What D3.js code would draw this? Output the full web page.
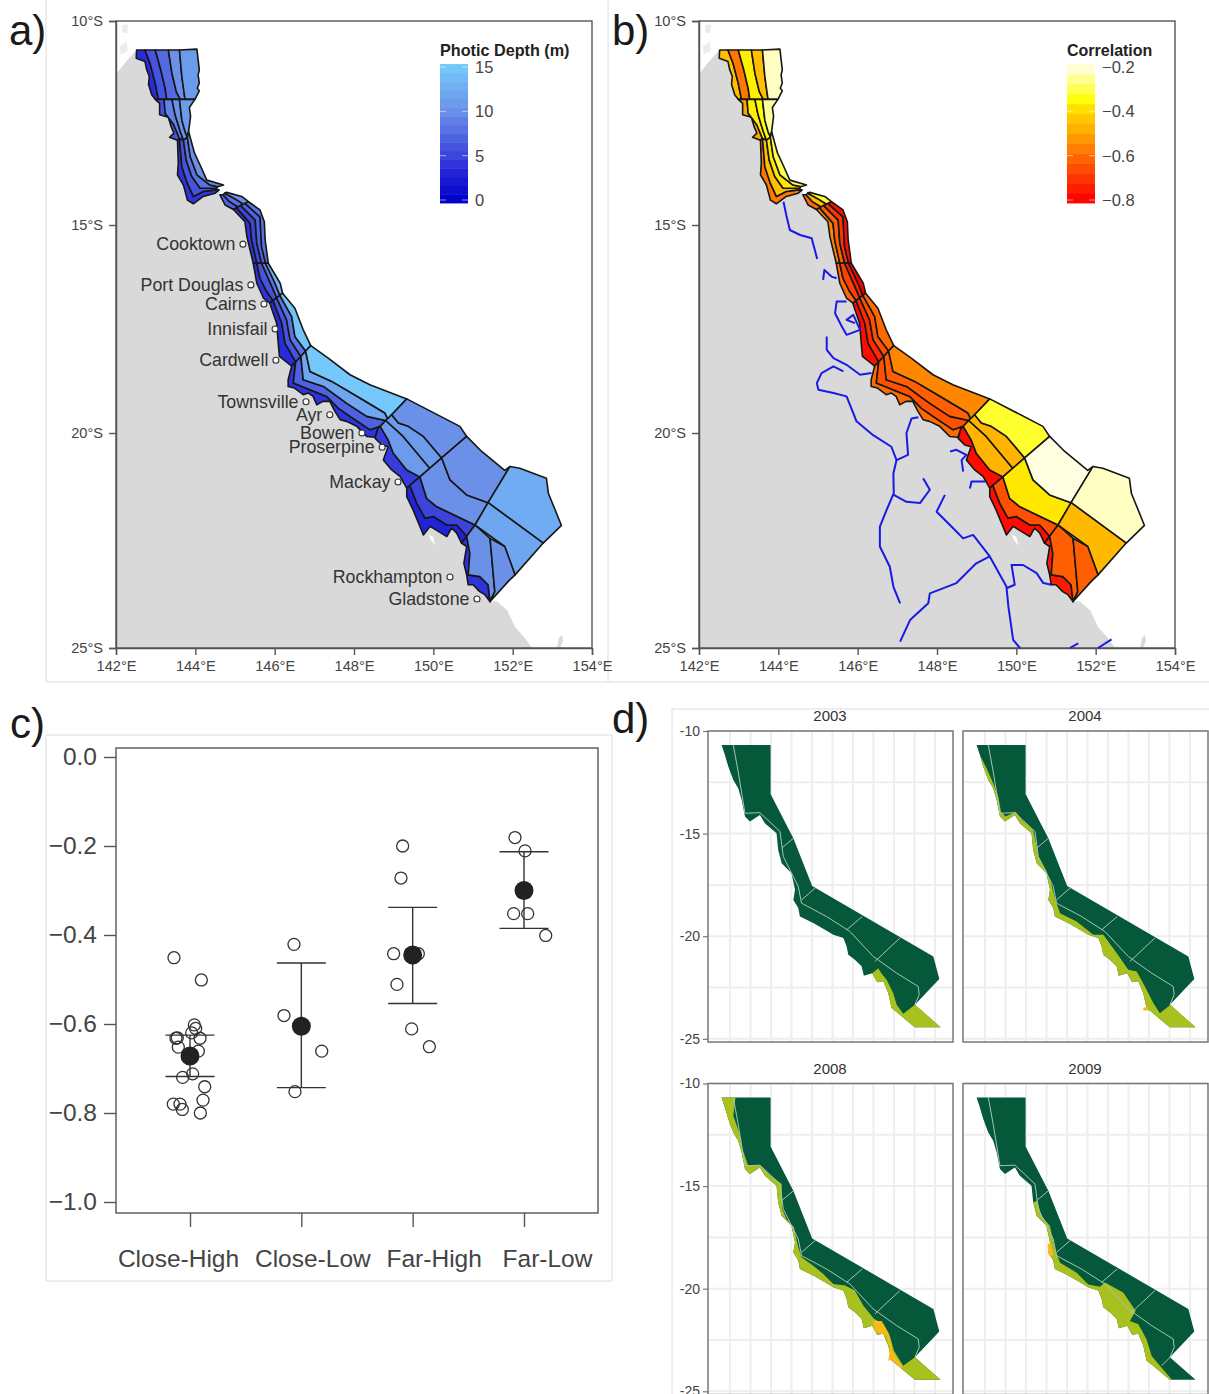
<!DOCTYPE html>
<html lang="en">
<head>
<meta charset="UTF-8">
<title>Photic depth and correlation maps</title>
<script src="https://d3js.org/d3.v7.min.js"></script>
<style>
    html, body { margin: 0; padding: 0; background: #fff; overflow: hidden; }
    svg { display: block; }
    text { font-family: "Liberation Sans", Arial, sans-serif; }
    .map-axis text { fill: #444; font-size: 14.6px; }
    .map-axis path, .map-axis line { stroke: #555; stroke-width: 1.4; }
    .c-axis text { fill: #444; font-size: 24.5px; }
    .c-axis path, .c-axis line { stroke: #555; stroke-width: 1.4; }
    .d-axis text { fill: #444; font-size: 14px; }
    .d-axis path { display: none; }
    .d-axis line { stroke: #777; stroke-width: 1.2; }
</style>
</head>
<body>
<svg width="1209" height="1394"></svg>
<script>
    // Map axes
    const lonTicks = [142, 144, 146, 148, 150, 152, 154];
    const latTicks = [-10, -15, -20, -25];

    // Reef sections: each list runs coast -> offshore, every line north -> south [lon, lat]
    const farNorthTop = [
        [[142.52,-10.71],[142.51,-10.91],[142.73,-10.99],[142.77,-11.18],[142.84,-11.36],[142.82,-11.55],[142.90,-11.81],[142.99,-11.92]],
        [[142.73,-10.71],[142.86,-11.04],[142.99,-11.53],[143.07,-11.92]],
        [[142.99,-10.71],[143.13,-11.20],[143.24,-11.65],[143.28,-11.92]],
        [[143.32,-10.71],[143.41,-11.28],[143.52,-11.73],[143.62,-11.92]],
        [[143.60,-10.71],[143.66,-11.36],[143.74,-11.92]],
        [[144.04,-10.69],[144.10,-11.20],[144.07,-11.32],[144.10,-11.52],[144.05,-11.65],[144.10,-11.71],[143.99,-11.92]]
    ];
    const farNorthMid = [
        [[142.99,-11.92],[143.10,-12.02],[143.10,-12.30],[143.32,-12.36],[143.39,-12.59],[143.46,-12.75],[143.35,-12.85],[143.55,-12.92]],
        [[143.21,-11.92],[143.24,-12.26],[143.46,-12.55],[143.60,-12.88]],
        [[143.41,-11.92],[143.49,-12.30],[143.62,-12.71],[143.70,-12.92]],
        [[143.60,-11.92],[143.66,-12.43],[143.74,-12.71],[143.80,-12.85]],
        [[143.99,-11.92],[143.85,-12.12],[143.88,-12.34],[143.83,-12.71]]
    ];
    const farNorthLow = [
        [[143.55,-12.92],[143.57,-13.49],[143.55,-13.77],[143.70,-14.02],[143.80,-14.39],[143.95,-14.48],[144.20,-14.30],[144.50,-14.22],[144.60,-14.14]],
        [[143.60,-12.88],[143.66,-13.57],[143.80,-13.98],[143.95,-14.30],[144.20,-14.18],[144.50,-14.14]],
        [[143.70,-12.92],[143.77,-13.41],[143.91,-13.81],[144.12,-14.10],[144.54,-14.10]],
        [[143.80,-12.85],[143.87,-13.32],[144.04,-13.77],[144.37,-14.02],[144.56,-14.06]],
        [[143.83,-12.71],[143.98,-13.24],[144.12,-13.53],[144.29,-13.90],[144.71,-14.02]]
    ];
    const cooktownTop = [
        [[144.62,-14.26],[144.75,-14.51],[144.96,-14.62]],
        [[144.70,-14.26],[144.85,-14.42],[145.08,-14.56]],
        [[144.74,-14.22],[145.00,-14.36],[145.22,-14.49]],
        [[144.79,-14.20],[145.17,-14.30],[145.34,-14.43]]
    ];
    const cooktownMid = [
        [[144.96,-14.62],[145.25,-14.92],[145.30,-15.28],[145.38,-15.60],[145.46,-15.92]],
        [[145.04,-14.58],[145.38,-14.96],[145.42,-15.36],[145.55,-15.92]],
        [[145.14,-14.52],[145.51,-14.88],[145.55,-15.44],[145.67,-15.92]],
        [[145.25,-14.47],[145.63,-14.80],[145.67,-15.52],[145.77,-15.92]],
        [[145.34,-14.43],[145.63,-14.63],[145.74,-14.92],[145.76,-15.36],[145.84,-15.92]]
    ];
    const portDouglas = [
        [[145.46,-15.92],[145.55,-16.40],[145.72,-16.76],[145.88,-16.88]],
        [[145.55,-15.92],[145.63,-16.28],[145.80,-16.60],[145.96,-16.82]],
        [[145.67,-15.92],[145.93,-16.48],[146.05,-16.75]],
        [[145.77,-15.92],[146.01,-16.40],[146.13,-16.69]],
        [[145.84,-15.92],[146.14,-16.40],[146.20,-16.64]]
    ];
    const cardwell = [
        [[145.88,-16.88],[145.92,-17.00],[146.05,-17.36],[146.09,-17.84],[146.12,-18.16],[146.43,-18.39]],
        [[145.96,-16.82],[146.18,-17.36],[146.26,-17.84],[146.53,-18.29]],
        [[146.05,-16.75],[146.30,-17.28],[146.39,-17.76],[146.66,-18.16]],
        [[146.13,-16.69],[146.43,-17.20],[146.51,-17.68],[146.78,-18.03]],
        [[146.20,-16.64],[146.51,-17.00],[146.72,-17.52],[146.91,-17.90]]
    ];
    const townsville = [
        [[146.43,-18.39],[146.34,-18.72],[146.34,-18.88],[146.50,-18.92],[146.72,-19.08],[146.85,-19.04],[146.97,-19.12],[147.06,-19.32],[147.22,-19.24],[147.39,-19.24],[147.52,-19.48],[147.65,-19.68],[147.81,-19.72],[148.07,-19.84],[148.32,-20.08],[148.53,-20.10],[148.61,-19.88]],
        [[146.53,-18.29],[146.47,-18.80],[146.89,-18.96],[147.31,-19.12],[147.60,-19.40],[147.90,-19.60],[148.40,-19.92],[148.66,-19.84]],
        [[146.66,-18.16],[146.72,-18.72],[147.23,-18.88],[147.81,-19.28],[148.32,-19.60],[148.80,-19.70]],
        [[146.78,-18.03],[146.89,-18.52],[147.44,-18.76],[148.15,-19.16],[148.78,-19.52],[148.86,-19.68],[148.95,-19.56]],
        [[146.91,-17.90],[147.35,-18.20],[147.90,-18.60],[148.40,-18.84],[149.33,-19.18]]
    ];
    const whitsundays = [
        [[148.61,-19.88],[148.53,-20.12],[148.70,-20.28],[148.86,-20.32],[148.74,-20.63],[148.95,-20.86],[149.16,-21.01],[149.33,-21.28]],
        [[148.66,-19.84],[148.86,-20.16],[148.99,-20.47],[149.33,-20.86],[149.66,-21.02]],
        [[148.80,-19.70],[149.24,-20.08],[149.91,-20.82]],
        [[148.95,-19.56],[149.12,-19.76],[149.37,-19.84],[149.75,-20.08],[150.21,-20.58]],
        [[149.33,-19.18],[150.67,-19.84],[150.84,-20.08]]
    ];
    const mackay = [
        [[149.33,-21.28],[149.33,-21.48],[149.49,-21.79],[149.75,-22.37],[149.92,-22.17],[150.34,-22.41],[150.46,-22.21],[150.59,-22.33],[150.71,-22.56]],
        [[149.41,-21.22],[149.58,-21.63],[149.79,-21.98],[150.00,-21.94],[150.34,-22.14],[150.59,-22.14],[150.84,-22.40]],
        [[149.66,-21.02],[149.83,-21.52],[150.08,-21.71],[151.05,-22.14]],
        [[150.21,-20.58],[150.42,-21.09],[150.84,-21.44],[151.38,-21.62]],
        [[150.84,-20.08],[151.22,-20.43],[151.80,-20.87],[151.93,-20.78]]
    ];
    const southEnd = [
        [[150.71,-22.56],[150.84,-22.64],[150.77,-23.03],[150.84,-23.30],[150.88,-23.53],[151.00,-23.53],[151.17,-23.69],[151.30,-23.76],[151.43,-23.92]],
        [[150.84,-22.40],[150.92,-22.80],[150.88,-23.30],[151.17,-23.34],[151.38,-23.53],[151.43,-23.92]],
        [[151.05,-22.14],[151.43,-22.45],[151.55,-23.69],[151.43,-23.92]]
    ];
    // Single offshore cells
    const cellNorthEast = [[151.93,-20.78],[152.18,-20.82],[152.85,-21.05],[152.90,-21.40],[153.23,-22.15],[152.77,-22.56],[151.38,-21.62]];
    const cellEast = [[151.38,-21.62],[152.77,-22.56],[152.06,-23.30],[151.80,-22.64],[151.05,-22.14]];
    const cellSouth = [[151.43,-22.45],[151.80,-22.64],[152.06,-23.30],[151.89,-23.45],[151.43,-23.92],[151.55,-23.69]];

    // Photic depth (m) per band, coast -> offshore
    const depthFarNorthTop = [3.5, 6, 7.5, 10, 11];
    const depthFarNorthMid = [6, 9, 10, 11];
    const depthFarNorthLow = [4, 6, 8, 10];
    const depthCooktownTop = [7, 8, 10];
    const depthCooktownMid = [4, 5, 7, 8];
    const depthPortDouglas = [4, 6, 8, 13];
    const depthCardwell = [3.5, 6, 8, 14.5];
    const depthTownsville = [4, 7, 12, 15];
    const depthWhitsundays = [4.5, 11, 11, 10];
    const depthMackay = [3, 5, 10, 10];
    const depthSouthEnd = [4, 10];
    const depthCells = [12.5, 12, 10];

    // Correlation per band, coast -> offshore
    const corrFarNorthTop = [-0.45, -0.58, -0.37, -0.45, -0.22];
    const corrFarNorthMid = [-0.5, -0.37, -0.35, -0.25];
    const corrFarNorthLow = [-0.58, -0.45, -0.38, -0.3];
    const corrCooktownTop = [-0.6, -0.45, -0.33];
    const corrCooktownMid = [-0.55, -0.62, -0.7, -0.78];
    const corrPortDouglas = [-0.6, -0.68, -0.75, -0.8];
    const corrCardwell = [-0.78, -0.72, -0.65, -0.6];
    const corrTownsville = [-0.6, -0.65, -0.62, -0.55];
    const corrWhitsundays = [-0.78, -0.47, -0.47, -0.32];
    const corrMackay = [-0.78, -0.65, -0.38, -0.2];
    const corrSouthEnd = [-0.75, -0.62];
    const corrCells = [-0.22, -0.46, -0.62];

    // Land edge beyond the reef
    const landNorth = [[142,-11.3],[142.25,-11.0],[142.5,-10.72]];
    const landSouth = [[151.60,-23.91],[151.86,-24.12],[152.06,-24.51],[152.28,-24.74],[152.49,-25],[142,-25]];
    const islandSouth = [[153.12,-25],[153.16,-24.78],[153.24,-24.70],[153.27,-24.82],[153.2,-25]];
    const islandsNorth = [[[142.15,-10.1],[142.3,-10.08],[142.28,-10.3],[142.16,-10.28]], [[142.1,-10.62],[142.27,-10.5],[142.3,-10.72],[142.12,-10.82]]];
    const whiteNotch = [[149.88,-22.36],[150.0,-22.42],[150.05,-22.62],[149.95,-22.5]];

    // Towns
    const townNames = ["Cooktown", "Port Douglas", "Cairns", "Innisfail", "Cardwell", "Townsville", "Ayr", "Bowen", "Proserpine", "Mackay", "Rockhampton", "Gladstone"];
    const townLon = [145.20, 145.40, 145.73, 146.01, 146.03, 146.79, 147.39, 148.20, 148.71, 149.11, 150.42, 151.10];
    const townLat = [-15.46, -16.44, -16.90, -17.50, -18.25, -19.25, -19.56, -20.00, -20.33, -21.14, -23.35, -23.86];

    // Rivers on panel b
    const rivers = [
        [[144.13,-14.43],[144.21,-14.80],[144.29,-15.12],[144.55,-15.24],[144.84,-15.32],[144.92,-15.60],[144.98,-15.82]],
        [[145.13,-16.32],[145.16,-16.08],[145.34,-16.24],[145.47,-16.28]],
        [[145.72,-16.84],[145.47,-16.84],[145.43,-17.12],[145.60,-17.44],[145.72,-17.64],[146.06,-17.52],[145.89,-17.16],[145.72,-17.28],[145.93,-17.36]],
        [[145.22,-17.68],[145.22,-18.00],[145.39,-18.20],[145.72,-18.36],[146.06,-18.60],[146.35,-18.56]],
        [[145.64,-18.52],[145.39,-18.40],[145.09,-18.56],[144.97,-18.80],[145.01,-18.96],[145.39,-19.04],[145.72,-19.12],[145.89,-19.52],[145.97,-19.72],[146.39,-20.05],[146.85,-20.32],[146.98,-20.63],[146.90,-20.94],[146.91,-21.40],[146.73,-21.79],[146.56,-22.18],[146.56,-22.64],[146.81,-23.11],[146.90,-23.57],[147.07,-23.96]],
        [[146.98,-20.63],[147.27,-20.51],[147.23,-20.00],[147.36,-19.65],[147.53,-19.62]],
        [[146.91,-21.44],[147.23,-21.60],[147.57,-21.63],[147.82,-21.32],[147.65,-21.05]],
        [[148.33,-20.43],[148.49,-20.39],[148.74,-20.51],[148.62,-20.63],[148.66,-20.90]],
        [[148.83,-21.29],[148.87,-21.13],[149.21,-21.13]],
        [[148.20,-21.44],[147.99,-21.83],[148.37,-22.18],[148.66,-22.45],[148.91,-22.37],[149.33,-22.87],[149.75,-23.57],[149.80,-24.04],[149.92,-24.81],[150.09,-25.00]],
        [[147.07,-24.85],[147.32,-24.35],[147.78,-23.96],[147.82,-23.73],[148.49,-23.49],[148.99,-23.03],[149.33,-22.87]],
        [[149.75,-23.61],[149.96,-23.53],[149.88,-23.07],[150.17,-23.07],[150.51,-23.26],[150.68,-23.49],[150.89,-23.53]],
        [[151.35,-25.00],[151.56,-24.89]],
        [[152.06,-25.00],[152.40,-24.80]]
    ];

    // Panel c
    const groupNames = ["Close-High", "Close-Low", "Far-High", "Far-Low"];
    const closeHighOffset = [-0.144, 0.102, 0.039, 0.051, 0.015, 0.09, -0.114, -0.126, -0.105, 0.075, 0.024, -0.066, 0.132, 0.117, -0.15, -0.09, -0.069, 0.093];
    const closeHighValues = [-0.451, -0.501, -0.602, -0.61, -0.62, -0.632, -0.631, -0.632, -0.652, -0.661, -0.712, -0.72, -0.741, -0.771, -0.78, -0.78, -0.792, -0.80];
    const closeLowOffset = [-0.066, -0.156, 0.183, -0.057];
    const closeLowValues = [-0.421, -0.581, -0.661, -0.752];
    const farHighOffset = [-0.09, -0.105, -0.171, 0.051, -0.141, -0.009, 0.15];
    const farHighValues = [-0.2, -0.272, -0.442, -0.442, -0.511, -0.611, -0.651];
    const farLowOffset = [-0.081, 0.009, -0.093, 0.033, 0.195];
    const farLowValues = [-0.181, -0.211, -0.352, -0.352, -0.401];
    const groupMeans = [-0.672, -0.605, -0.445, -0.30];
    const groupUpper = [-0.625, -0.463, -0.338, -0.213];
    const groupLower = [-0.718, -0.743, -0.554, -0.385];

    // Panel d
    const yearNames = ["2003", "2004", "2008", "2009"];
    const gridLon = [142, 143, 144, 145, 146, 147, 148, 149, 150, 151, 152];
    const gridLat = [-10, -12.5, -15, -17.5, -20, -22.5, -25];
    const dCoast = [[141.59,-10.68],[141.75,-11.17],[141.92,-11.74],[142.16,-12.39],[142.40,-12.79],[142.57,-13.36],[142.73,-14.17],[142.97,-14.41],[143.46,-14.09],[143.70,-14.49],[144.27,-14.98],[144.35,-15.79],[144.52,-16.44],[145.00,-16.93],[145.17,-17.74],[145.09,-18.23],[145.33,-18.63],[145.41,-19.04],[146.06,-19.36],[146.63,-19.69],[147.04,-19.93],[147.53,-20.09],[147.69,-20.50],[147.77,-20.91],[148.09,-21.15],[148.42,-21.47],[148.53,-21.93],[148.94,-21.80],[149.18,-22.25],[149.48,-22.20],[149.72,-22.77],[149.88,-23.50],[150.29,-23.83],[150.53,-24.04],[151.02,-24.44]];
    const dOffshore = [[152.27,-24.44],[151.02,-23.34],[152.21,-22.09],[151.92,-20.99],[146.01,-17.55],[145.09,-15.23],[143.98,-13.07],[143.98,-10.68]];
    const dInnerLine = [[142.16,-10.68],[142.40,-11.98],[142.73,-14.01],[143.46,-13.98],[144.44,-14.90],[144.60,-16.12],[145.33,-17.58],[145.49,-18.39],[146.71,-19.04],[147.85,-19.77],[148.99,-20.99],[150.13,-21.80],[151.18,-22.45],[151.23,-22.85],[151.02,-23.34]];
    const dCrossLines = [[[144.52,-15.71],[145.09,-15.23]], [[145.49,-18.23],[146.18,-17.63]], [[147.69,-19.69],[148.45,-19.04]], [[149.07,-21.23],[150.29,-20.09]]];
    const edge2003 = [[152.27,-24.44],[151.02,-23.34],[150.45,-23.78],[150.13,-23.34],[149.96,-22.77],[149.64,-22.12],[149.40,-21.83],[149.23,-21.56]];
    const edge2004 = [[152.27,-24.44],[151.05,-23.34],[150.53,-23.75],[150.21,-23.26],[149.80,-22.45],[149.40,-21.72],[148.99,-21.64],[148.42,-20.82],[147.77,-19.93],[147.28,-19.93],[146.47,-19.28],[145.66,-18.88],[145.41,-18.15],[145.20,-17.34],[144.97,-16.77],[144.60,-16.12],[144.52,-15.63],[144.35,-14.82],[143.79,-14.33],[143.49,-13.93],[143.01,-14.17],[142.78,-13.93],[142.65,-13.20],[142.40,-12.55],[142.08,-11.82],[141.83,-11.33]];
    const edge2008 = [[152.27,-24.44],[151.02,-23.34],[150.45,-23.75],[150.00,-23.02],[149.80,-22.29],[149.48,-21.72],[149.02,-21.47],[148.50,-20.82],[148.09,-20.09],[147.61,-19.85],[147.04,-19.77],[146.55,-19.28],[146.06,-18.88],[145.49,-18.47],[145.33,-17.98],[145.12,-17.01],[144.76,-16.61],[144.55,-16.12],[144.52,-14.90],[143.95,-14.46],[143.46,-13.98],[142.89,-14.01],[142.61,-13.20],[142.45,-12.39],[142.16,-11.57],[142.27,-10.68]];
    const edge2009 = [[151.10,-24.41],[150.53,-23.76],[150.13,-23.28],[149.88,-22.46],[149.48,-21.73],[149.07,-21.57],[149.35,-21.08],[148.74,-20.19],[147.85,-19.70],[147.61,-19.90],[147.04,-19.79],[146.47,-19.22],[145.66,-18.73],[145.41,-18.08],[145.17,-16.95],[144.76,-16.46],[144.55,-15.73]];
    const orange2004 = [[149.72,-23.50],[149.93,-23.42],[149.96,-23.62],[149.72,-23.62]];
    const orange2008 = [[148.99,-21.57],[149.40,-21.57],[149.72,-22.14],[149.93,-23.03],[150.21,-23.52],[150.45,-23.84],[150.29,-23.84],[149.88,-23.44],[149.72,-23.52],[149.80,-22.95],[149.64,-22.30],[149.23,-22.14],[149.07,-22.06]];
    const orange2009 = [[145.05,-17.82],[145.22,-17.82],[145.33,-18.39],[145.12,-18.42]];
    const crossTail2009 = [[150.61,-23.76],[151.18,-23.19]];

    const svg = d3.select("svg");

    // thin outlines of the pasted panels
    const panelLines = [[46, 0, 46, 682], [46, 682, 1209, 682], [608, 0, 608, 682], [46, 735, 612, 735], [46, 735, 46, 1281], [46, 1281, 612, 1281], [612, 735, 612, 1281], [672, 709, 1209, 709], [672, 709, 672, 1394]];
    svg.append("g").selectAll("line").data(panelLines).join("line")
        .attr("x1", d => d[0]).attr("y1", d => d[1]).attr("x2", d => d[2]).attr("y2", d => d[3])
        .attr("stroke", "#dcdcdc").attr("stroke-width", 1);

    // Panel letters
    const letters = [["a)", 9, 45], ["b)", 612, 45], ["c)", 10, 738], ["d)", 612, 733]];
    svg.append("g").selectAll("text").data(letters).join("text")
        .attr("x", d => d[1]).attr("y", d => d[2]).attr("font-size", 42).attr("fill", "#1a1a1a").text(d => d[0]);

    const latY = d3.scaleLinear().domain(latTicks).range([21, 225, 433, 648]);
    const depthColor = d3.scaleLinear().domain([0, 3, 5, 10, 15]).range(["#0000c8", "#2222d8", "#3c44dc", "#6a90e8", "#74c8fb"]);
    const corrColor = d3.scaleLinear().domain([-0.8, -0.6, -0.5, -0.4, -0.35, -0.3, -0.2])
        .range(["#ff0000", "#ff6a00", "#ffa500", "#ffd800", "#ffff00", "#ffff50", "#fffee0"]);

    const sections = [
        [farNorthTop, depthFarNorthTop, corrFarNorthTop],
        [farNorthMid, depthFarNorthMid, corrFarNorthMid],
        [farNorthLow, depthFarNorthLow, corrFarNorthLow],
        [cooktownTop, depthCooktownTop, corrCooktownTop],
        [cooktownMid, depthCooktownMid, corrCooktownMid],
        [portDouglas, depthPortDouglas, corrPortDouglas],
        [cardwell, depthCardwell, corrCardwell],
        [townsville, depthTownsville, corrTownsville],
        [whitsundays, depthWhitsundays, corrWhitsundays],
        [mackay, depthMackay, corrMackay],
        [southEnd, depthSouthEnd, corrSouthEnd]
    ];
    const coastline = sections.flatMap(s => s[0][0]);
    const landEdge = landNorth.concat(coastline, landSouth);

    // one polygon per band, the two lines joined end to end
    const bands = sections.flatMap(s => s[1].map((v, i) => ({
        ring: s[0][i].concat(s[0][i + 1].slice().reverse()), depth: v, corr: s[2][i]
    })));
    const cells = [cellNorthEast, cellEast, cellSouth].map((ring, i) => ({ ring, depth: depthCells[i], corr: corrCells[i] }));

    const drawMap = (left, right, colorOf) => {
        const lonX = d3.scaleLinear().domain([142, 154]).range([left, right]);
        const line = d3.line().x(d => lonX(d[0])).y(d => latY(d[1]));
        const g = svg.append("g");

        g.append("path").attr("d", line(landEdge) + "Z").attr("fill", "#d9d9d9");
        g.append("path").attr("d", line(islandSouth) + "Z").attr("fill", "#d9d9d9");
        g.selectAll(".isle").data(islandsNorth).join("path").attr("class", "isle")
            .attr("d", d => line(d) + "Z").attr("fill", "#ececec");
        g.append("path").attr("d", line(whiteNotch) + "Z").attr("fill", "#fff");

        g.selectAll(".band").data(bands.concat(cells)).join("path").attr("class", "band")
            .attr("d", d => line(d.ring) + "Z")
            .attr("fill", colorOf)
            .attr("stroke", "#161616").attr("stroke-width", 1.6).attr("stroke-linejoin", "round");

        g.append("g").attr("class", "map-axis").attr("transform", `translate(0,648)`)
            .call(d3.axisBottom(lonX).tickValues(lonTicks).tickSize(7).tickPadding(6).tickFormat(d => `${d}°E`));
        g.append("g").attr("class", "map-axis").attr("transform", `translate(${left},0)`)
            .call(d3.axisLeft(latY).tickValues(latTicks).tickSize(7).tickPadding(6).tickFormat(d => `${-d}°S`));
        g.append("rect").attr("x", left).attr("y", 21).attr("width", right - left).attr("height", 627)
            .attr("fill", "none").attr("stroke", "#555").attr("stroke-width", 1.4);
        return { g, lonX, line };
    };

    const mapA = drawMap(116, 592, d => depthColor(d.depth));
    const mapB = drawMap(699, 1175, d => corrColor(d.corr));

    // Towns on panel a
    const townG = mapA.g.append("g");
    townG.selectAll("circle").data(townNames).join("circle")
        .attr("cx", (d, i) => mapA.lonX(townLon[i])).attr("cy", (d, i) => latY(townLat[i])).attr("r", 3)
        .attr("fill", "#fff").attr("stroke", "#333").attr("stroke-width", 1.1);
    townG.selectAll("text").data(townNames).join("text")
        .attr("x", (d, i) => mapA.lonX(townLon[i]) - 7.5).attr("y", (d, i) => latY(townLat[i]) + 6)
        .attr("text-anchor", "end").attr("font-size", 17.8).attr("fill", "#333").text(d => d);

    // Rivers on panel b
    mapB.g.append("g").selectAll("path").data(rivers).join("path")
        .attr("d", mapB.line).attr("fill", "none").attr("stroke", "#1a1ae6").attr("stroke-width", 2).attr("stroke-linejoin", "round");

    // Colour legends
    const drawLegend = (x, title, titleSize, lo, hi, count, colour, ticks, fmt) => {
        const pos = d3.scaleLinear().domain([lo, hi]).range([200, 67]);
        const extra = (hi - lo) * 0.022;
        const size = (hi - lo + 2 * extra) / count;
        const steps = d3.range(count).map(i => lo - extra + i * size);
        const g = svg.append("g");
        g.selectAll("rect").data(steps).join("rect")
            .attr("x", x).attr("width", 28).attr("y", d => pos(d + size)).attr("height", d => pos(d) - pos(d + size) + 0.5)
            .attr("fill", d => colour(d + size / 2));
        g.selectAll(".dash").data(ticks.flatMap(t => [[t, x], [t, x + 22]])).join("line").attr("class", "dash")
            .attr("x1", d => d[1]).attr("x2", d => d[1] + 6).attr("y1", d => pos(d[0])).attr("y2", d => pos(d[0]))
            .attr("stroke", "#fff").attr("stroke-opacity", 0.55).attr("stroke-width", 1);
        g.selectAll(".lab").data(ticks).join("text").attr("class", "lab")
            .attr("x", x + 35).attr("y", d => pos(d) + 6).attr("font-size", 16.5).attr("fill", "#444").text(fmt);
        g.append("text").attr("x", x).attr("y", 56).attr("font-size", titleSize).attr("font-weight", "bold").attr("fill", "#222").text(title);
    };
    drawLegend(440, "Photic Depth (m)", 16.2, 0, 15, 16, depthColor, [0, 5, 10, 15], d => d);
    drawLegend(1067, "Correlation", 16, -0.8, -0.2, 14, corrColor, [-0.8, -0.6, -0.4, -0.2], d3.format(".1f"));

    // Panel c
    const groupX = d3.scaleLinear().domain([1, 4]).range([190, 524]);
    const valueY = d3.scaleLinear().domain([-1, 0]).range([1202, 757]);
    const labelShift = [-12, 11, 21, 23];
    const gc = svg.append("g");
    gc.append("rect").attr("x", 116).attr("y", 748).attr("width", 482).attr("height", 465)
        .attr("fill", "none").attr("stroke", "#555").attr("stroke-width", 1.4);
    gc.append("g").attr("class", "c-axis").attr("transform", "translate(116,0)")
        .call(d3.axisLeft(valueY).tickValues([-1, -0.8, -0.6, -0.4, -0.2, 0]).tickSize(12).tickPadding(7).tickFormat(d3.format(".1f")))
        .select(".domain").remove();
    gc.append("g").attr("class", "c-axis").attr("transform", "translate(0,1213)")
        .call(d3.axisBottom(groupX).tickValues([1, 2, 3, 4]).tickSize(14).tickPadding(23).tickFormat((d, i) => groupNames[i]))
        .call(a => a.select(".domain").remove())
        .selectAll("text").attr("dx", (d, i) => labelShift[i]);

    const groupPoints = [
        [closeHighOffset, closeHighValues], [closeLowOffset, closeLowValues],
        [farHighOffset, farHighValues], [farLowOffset, farLowValues]
    ].flatMap((g, k) => g[0].map((o, i) => ({ x: k + 1 + o, y: g[1][i] })));
    gc.selectAll(".obs").data(groupPoints).join("circle").attr("class", "obs")
        .attr("cx", d => groupX(d.x)).attr("cy", d => valueY(d.y)).attr("r", 6)
        .attr("fill", "none").attr("stroke", "#333").attr("stroke-width", 1.3);

    const errG = gc.selectAll(".err").data(groupNames).join("g").attr("class", "err").attr("stroke", "#333").attr("stroke-width", 1.4);
    errG.append("line").attr("x1", (d, i) => groupX(i + 1)).attr("x2", (d, i) => groupX(i + 1))
        .attr("y1", (d, i) => valueY(groupUpper[i])).attr("y2", (d, i) => valueY(groupLower[i]));
    errG.append("line").attr("x1", (d, i) => groupX(i + 1) - 24.5).attr("x2", (d, i) => groupX(i + 1) + 24.5)
        .attr("y1", (d, i) => valueY(groupUpper[i])).attr("y2", (d, i) => valueY(groupUpper[i]));
    errG.append("line").attr("x1", (d, i) => groupX(i + 1) - 24.5).attr("x2", (d, i) => groupX(i + 1) + 24.5)
        .attr("y1", (d, i) => valueY(groupLower[i])).attr("y2", (d, i) => valueY(groupLower[i]));
    errG.append("circle").attr("cx", (d, i) => groupX(i + 1)).attr("cy", (d, i) => valueY(groupMeans[i])).attr("r", 9.5)
        .attr("fill", "#222").attr("stroke", "none");

    // Panel d: four small multiples
    const footprint = dCoast.concat(dOffshore);
    const yellowGreen = "#a9c11f", amber = "#fbb917", deepGreen = "#05593a";
    const facets = [
        { x0: 708, y0: 731, overlays: [[dCoast.slice(27).concat(edge2003), yellowGreen]], extras: [] },
        { x0: 963, y0: 731, overlays: [[dCoast.slice(1).concat(edge2004), yellowGreen], [orange2004, amber]], extras: [] },
        { x0: 708, y0: 1083.5, overlays: [[dCoast.concat(edge2008), yellowGreen], [orange2008, amber]], extras: [] },
        { x0: 963, y0: 1083.5, overlays: [[dCoast.slice(11).concat(edge2009), yellowGreen], [orange2009, amber]], extras: [crossTail2009] }
    ];
    facets.forEach((f, k) => {
        const x = d3.scaleLinear().domain([142, 152]).range([f.x0 + 22, f.x0 + 227]);
        const y = d3.scaleLinear().domain([-10, -25]).range([f.y0, f.y0 + 307.8]);
        const line = d3.line().x(d => x(d[0])).y(d => y(d[1]));
        const g = svg.append("g");
        const h = Math.min(311, 1394 - f.y0 + 2);

        g.selectAll(".gx").data(gridLon).join("line").attr("class", "gx")
            .attr("x1", d => x(d)).attr("x2", d => x(d)).attr("y1", f.y0).attr("y2", f.y0 + h)
            .attr("stroke", "#eeeeee").attr("stroke-width", 2);
        g.selectAll(".gy").data(gridLat).join("line").attr("class", "gy")
            .attr("x1", f.x0).attr("x2", f.x0 + 245).attr("y1", d => y(d)).attr("y2", d => y(d))
            .attr("stroke", "#eeeeee").attr("stroke-width", 2);

        g.append("path").attr("d", line(footprint) + "Z").attr("fill", deepGreen);
        g.selectAll(".over").data(f.overlays).join("path").attr("class", "over")
            .attr("d", d => line(d[0]) + "Z").attr("fill", d => d[1]);
        g.selectAll(".inner").data([dInnerLine].concat(dCrossLines, f.extras)).join("path").attr("class", "inner")
            .attr("d", line).attr("fill", "none").attr("stroke", "#a3c4b8").attr("stroke-width", 1);

        g.append("rect").attr("x", f.x0).attr("y", f.y0).attr("width", 245).attr("height", h)
            .attr("fill", "none").attr("stroke", "#777").attr("stroke-width", 1.5);
        g.append("text").attr("x", f.x0 + 122).attr("y", f.y0 - 10).attr("text-anchor", "middle")
            .attr("font-size", 15).attr("fill", "#333").text(yearNames[k]);
        if (f.x0 === 708) {
            g.append("g").attr("class", "d-axis").attr("transform", `translate(${f.x0},0)`)
                .call(d3.axisLeft(y).tickValues(latTicks).tickSize(5).tickPadding(3).tickFormat(d => `-${-d}`));
        }
    });
</script>
</body>
</html>
